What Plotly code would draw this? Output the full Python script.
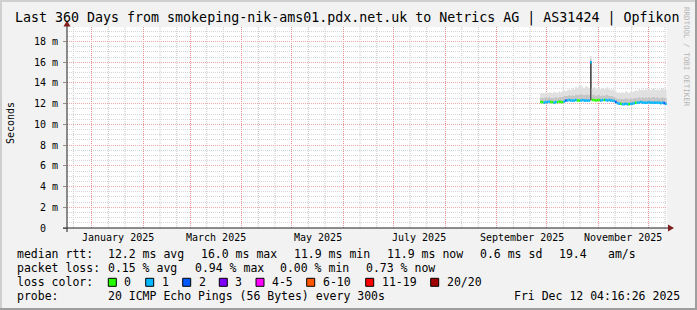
import pandas as pd
import plotly.graph_objects as go

# ---------------- data ----------------
title_text = "Last 360 Days from smokeping-nik-ams01.pdx.net.uk to Netrics AG | AS31424 | Opfikon"
t_end = pd.Timestamp("2025-12-12 04:16:26")
t_start = t_end - pd.Timedelta(days=360)

first_day = "2025-09-27"   # first daily sample shown

median_ms = [12.15, 12.15, 12.1, 12.15, 12.15, 12.2, 12.15, 12.15, 12.1, 12.15, 12.15, 12.2, 12.15, 12.15, 12.2,
             12.3, 12.3, 12.35, 12.3, 12.3, 12.3, 12.35, 12.3, 12.3, 12.3, 12.35, 12.3, 12.3, 12.3, 12.3,
             16.0,
             12.35, 12.35, 12.3, 12.35, 12.35, 12.3, 12.35, 12.35, 12.35, 12.3, 12.35, 12.3, 12.3, 12.25,
             12.15, 12.05, 12.0, 12.0,
             11.95, 11.95, 12.0, 11.95, 11.95, 12.0, 12.0, 12.05,
             12.1, 12.1, 12.1, 12.15, 12.1, 12.1, 12.1, 12.1, 12.15, 12.1, 12.1, 12.1, 12.1, 12.1, 12.1, 12.05, 12.1, 12.05, 12.0]

loss_pings = [0, 0, 1, 1, 1, 1, 0, 0, 1, 1,
              0, 0, 0, 0, 1, 2, 1, 1, 1, 1,
              1, 1, 0, 0, 1, 1, 1, 1, 1, 1,
              1, 0, 0, 0, 0, 0, 1, 1, 0, 1,
              1, 1, 1, 1, 1, 2, 1, 1, 0, 1,
              1, 1, 1, 0, 1, 1, 1, 0, 1, 1,
              1, 1, 1, 1, 1, 1, 1, 1, 1, 1,
              1, 1, 1, 1, 2, 1]

smoke_min_ms = [12.05, 12.05, 12.0, 12.05, 12.05, 12.1, 12.05, 12.05, 12.0, 12.05, 12.05, 12.1, 12.05, 12.05, 12.1,
                12.2, 12.2, 12.25, 12.2, 12.2, 12.2, 12.25, 12.2, 12.2, 12.2, 12.25, 12.2, 12.2, 12.2, 12.2,
                12.3,
                12.25, 12.25, 12.2, 12.25, 12.25, 12.2, 12.25, 12.25, 12.25, 12.2, 12.25, 12.2, 12.2, 12.15,
                12.05, 11.95, 11.9, 11.9,
                11.85, 11.85, 11.9, 11.85, 11.85, 11.9, 11.9, 11.95,
                12.0, 12.0, 12.0, 12.05, 12.0, 12.0, 12.0, 12.0, 12.05, 12.0, 12.0, 12.0, 12.0, 12.0, 12.0, 11.95, 12.0, 11.95, 11.9]

smoke_core_ms = [12.05, 12.05, 12.0, 12.05, 12.05, 12.1, 12.05, 12.05, 12.0, 12.05, 12.05, 12.1, 12.05, 12.05, 12.1,
                 12.2, 12.2, 12.25, 12.2, 12.2, 12.2, 12.25, 12.2, 12.2, 12.2, 12.25, 12.2, 12.2, 12.2, 12.2,
                 16.1,
                 12.25, 12.25, 12.2, 12.25, 12.25, 12.2, 12.25, 12.25, 12.25, 12.2, 12.25, 12.2, 12.2, 12.15,
                 12.05, 11.95, 11.9, 11.9,
                 11.85, 11.85, 11.9, 11.85, 11.85, 11.9, 11.9, 11.95,
                 12.0, 12.0, 12.0, 12.05, 12.0, 12.0, 12.0, 12.0, 12.05, 12.0, 12.0, 12.0, 12.0, 12.0, 12.0, 11.95, 12.0, 11.95, 11.9]

smoke_q_ms = [12.6, 12.6, 12.55, 12.65, 12.6, 12.65, 12.6, 12.6, 12.6, 12.65, 12.6, 12.7, 12.65, 12.7, 12.75,
              12.75, 12.8, 12.85, 12.8, 12.85, 12.8, 12.9, 12.85, 12.9, 12.95, 12.9, 12.85, 12.9, 12.9, 12.85,
              16.3,
              12.85, 12.9, 12.8, 12.85, 12.9, 12.8, 12.85, 12.8, 12.85, 12.9, 12.8, 12.75, 12.8, 12.7,
              12.6, 12.5, 12.5, 12.45, 12.45, 12.45, 12.55, 12.5, 12.45, 12.55, 12.5, 12.55,
              12.6, 12.55, 12.65, 12.6, 12.65, 12.6, 12.7, 12.6, 12.65, 12.6, 12.65, 12.7, 12.6, 12.65, 12.6, 12.6, 12.65, 12.6, 12.55]

smoke_max_ms = [13.0, 13.05, 13.0, 13.1, 13.0, 13.1, 13.05, 13.0, 13.15, 13.1, 13.0, 13.2, 13.1, 13.2, 13.3,
                13.2, 13.3, 13.4, 13.3, 13.5, 13.4, 13.6, 13.5, 13.7, 13.8, 13.6, 13.5, 13.7, 13.6, 13.5,
                16.6,
                13.5, 13.6, 13.4, 13.5, 13.6, 13.4, 13.5, 13.4, 13.5, 13.6, 13.4, 13.3, 13.4, 13.3,
                13.2, 13.0, 13.1, 13.0, 13.1, 13.0, 13.2, 13.1, 13.0, 13.2, 13.1, 13.2,
                13.3, 13.2, 13.4, 13.3, 13.4, 13.3, 13.5, 13.3, 13.4, 13.3, 13.4, 13.5, 13.3, 13.4, 13.3, 13.4, 13.5, 13.4, 13.3]

y_tick_vals = [0, 2, 4, 6, 8, 10, 12, 14, 16, 18]
y_tick_text = ["0\u00a0\u00a0", "2 m", "4 m", "6 m", "8 m", "10 m", "12 m", "14 m", "16 m", "18 m"]
x_label_months = ["2025-01-01", "2025-03-01", "2025-05-01", "2025-07-01", "2025-09-01", "2025-11-01"]

loss_bins = [(0, 0), (1, 1), (2, 2), (3, 3), (4, 5), (6, 10), (11, 19), (20, 20)]
loss_names = ["0", "1", "2", "3", "4-5", "6-10", "11-19", "20/20"]
loss_colors = ["#26ff00", "#00b8ff", "#0059ff", "#7e00ff", "#ff00ff", "#ff5500", "#ff0000", "#a10000"]

rtt_row = ["median rtt:", "12.2 ms avg", "16.0 ms max", "11.9 ms min", "11.9 ms now", "0.6 ms sd", "19.4", "am/s"]
loss_row = ["packet loss:", "0.15 % avg", "0.94 % max", "0.00 % min", "0.73 % now"]
probe_row = ["probe:", "20 ICMP Echo Pings (56 Bytes) every 300s", "Fri Dec 12 04:16:26 2025"]
loss_color_label = "loss color:"
watermark = "RRDTOOL / TOBI OETIKER"

# ---------------- layout geometry (pixels) ----------------
W, H = 697, 310
L, T, R, B = 67, 27, 667, 228
MONO = "DejaVu Sans Mono"
FMT = "%Y-%m-%d %H:%M:%S"


def fx(x):
    return (x - L) / (R - L)


def fy(y):
    return (B - y) / (B - T)


dates = pd.date_range(first_day, periods=len(median_ms), freq="D")
step = pd.Timedelta(days=1)
x_ext = [d.strftime(FMT) for d in dates] + [(dates[-1] + step).strftime(FMT)]


def ext(v):
    return list(v) + [v[-1]]


fig = go.Figure()

# smoke bands
band_specs = [(smoke_min_ms, None, None),
              (smoke_core_ms, "tonexty", "#4a4a4a"),
              (smoke_q_ms, "tonexty", "#c6c6c6"),
              (smoke_max_ms, "tonexty", "#e0e0e0")]
for vals, fill, col in band_specs:
    fig.add_trace(go.Scatter(x=x_ext, y=ext(vals), mode="lines", line=dict(width=0, shape="hv"),
                             fill=fill, fillcolor=col, hoverinfo="skip", showlegend=False))

# median line coloured by loss
for (lo, hi), col in zip(loss_bins, loss_colors):
    xs, ys = [], []
    for d, m, lp in zip(dates, median_ms, loss_pings):
        if lo <= lp <= hi:
            xs += [d.strftime(FMT), (d + step).strftime(FMT), None]
            ys += [m, m, None]
    if xs:
        fig.add_trace(go.Scatter(x=xs, y=ys, mode="lines", line=dict(color=col, width=2.5),
                                 connectgaps=False, hoverinfo="skip", showlegend=False))

# axes / grid positions
month_starts = [d.strftime(FMT) for d in pd.date_range("2025-01-01", "2025-12-01", freq="MS")]
label_pos = []
for m in x_label_months:
    s = pd.Timestamp(m)
    e = s + pd.offsets.MonthBegin(1)
    label_pos.append((s + (e - s) / 2).strftime(FMT))
label_txt = [pd.Timestamp(m).strftime("%B %Y") for m in x_label_months]
minor_days = [d.strftime(FMT) for d in pd.date_range(t_start.normalize(), t_end, freq="D") if d.day in (11, 21)]

# opaque grid colours (dotted)
grid_gray = "#d6d6d6"
grid_red = "#eea8a8"
vgrid_gray = "#c8c8c8"
vgrid_red = "#e89090"
rng = [t_start.strftime(FMT), t_end.strftime(FMT)]

fig.update_layout(
    width=W, height=H, autosize=False,
    margin=dict(l=L, r=W - R, t=T, b=H - B, pad=0),
    paper_bgcolor="#f2f2f2", plot_bgcolor="#ffffff",
    showlegend=False,
    xaxis=dict(type="date", range=rng, tickmode="array", tickvals=month_starts,
               ticktext=[""] * len(month_starts), showgrid=True, gridcolor=vgrid_red,
               griddash="1px,1px", gridwidth=1,
               zeroline=False, showline=False, ticks="", fixedrange=True),
    yaxis=dict(range=[0, 19.4], tickmode="array", tickvals=y_tick_vals, ticktext=y_tick_text,
               showgrid=True, gridcolor=grid_red, griddash="1px,1px", gridwidth=1,
               minor=dict(dtick=0.5, tick0=0, showgrid=True, gridcolor=grid_gray, griddash="1px,1px", ticks=""),
               zeroline=False, showline=False, ticks="outside", ticklen=3, tickcolor="#8f8f8f",
               tickfont=dict(family=MONO, size=10, color="#000000"), ticklabelstandoff=3,
               fixedrange=True),
)

shapes = []
# minor vertical grid (11th and 21st of each month)
for d in minor_days:
    shapes.append(dict(type="line", xref="x", yref="y", x0=d, x1=d, y0=0, y1=19.4, layer="below",
                       line=dict(color=vgrid_gray, width=1, dash="1px,1px")))
# frame shading
for (x0, y0, x1, y1, c) in [(0, 0, W, 2, "#cfcfcf"), (0, 0, 2, H, "#cfcfcf"),
                             (0, H - 2, W, H, "#9e9e9e"), (W - 2, 0, W, H, "#9e9e9e")]:
    shapes.append(dict(type="rect", xref="paper", yref="paper", x0=fx(x0), x1=fx(x1), y0=fy(y0), y1=fy(y1),
                       fillcolor=c, line=dict(width=0), layer="above"))
# axis lines
shapes.append(dict(type="line", xref="paper", yref="paper", x0=fx(63), x1=fx(671), y0=fy(B), y1=fy(B),
                   line=dict(color="#1f1f1f", width=1)))
shapes.append(dict(type="line", xref="paper", yref="paper", x0=fx(L), x1=fx(L), y0=fy(232), y1=fy(23),
                   line=dict(color="#1f1f1f", width=1)))
# arrows
shapes.append(dict(type="path", xref="paper", yref="paper",
                   path=f"M {fx(L)},{fy(20.5)} L {fx(L - 3.5)},{fy(26.5)} L {fx(L + 3.5)},{fy(26.5)} Z",
                   fillcolor="#801f1f", line=dict(width=0)))
shapes.append(dict(type="path", xref="paper", yref="paper",
                   path=f"M {fx(674)},{fy(B)} L {fx(668)},{fy(B - 3.5)} L {fx(668)},{fy(B + 3.5)} Z",
                   fillcolor="#801f1f", line=dict(width=0)))

annotations = []


def text(x, y, s, size=11.5, anchor="left", color="#000000", angle=0):
    annotations.append(dict(xref="paper", yref="paper", x=fx(x), y=fy(y), text=s, showarrow=False,
                            xanchor=anchor, yanchor="middle", textangle=angle,
                            font=dict(family=MONO, size=size, color=color)))


# month labels on the date axis (centred in their month)
for pos, s in zip(label_pos, label_txt):
    annotations.append(dict(xref="x", yref="paper", x=pos, y=fy(237.5), text=s, showarrow=False,
                            xanchor="center", yanchor="middle",
                            font=dict(family=MONO, size=10, color="#000000")))

text(347, 18.5, title_text, size=13.3, anchor="center")
text(10.5, 123.5, "Seconds", size=10, anchor="center", angle=-90)
text(687, 57, watermark, size=7.5, anchor="center", color="#b4b4b4", angle=90)

rtt_x = [16, 107.3, 200, 293.3, 386, 479.3, 558.3, 606.7]
for xx, s in zip(rtt_x, rtt_row):
    text(xx - 1, 254.3, s)
loss_x = [16, 107.3, 194, 279.3, 365]
for xx, s in zip(loss_x, loss_row):
    text(xx - 1, 268.3, s)
text(16 - 1, 282.3, loss_color_label)
box_x = [108.3, 145.7, 182.7, 219.3, 256, 306.7, 365.7, 430.7]
for bx, name, col in zip(box_x, loss_names, loss_colors):
    shapes.append(dict(type="rect", xref="paper", yref="paper", x0=fx(bx), x1=fx(bx + 8),
                       y0=fy(278.3), y1=fy(286.3), fillcolor=col, line=dict(color="#000000", width=1)))
    text(bx + 15 - 1, 282.3, name)
probe_x = [16, 107.3, 513.3]
for xx, s in zip(probe_x, probe_row):
    text(xx - 1, 296, s)

fig.update_layout(shapes=shapes, annotations=annotations)
fig.write_html("out.html")
